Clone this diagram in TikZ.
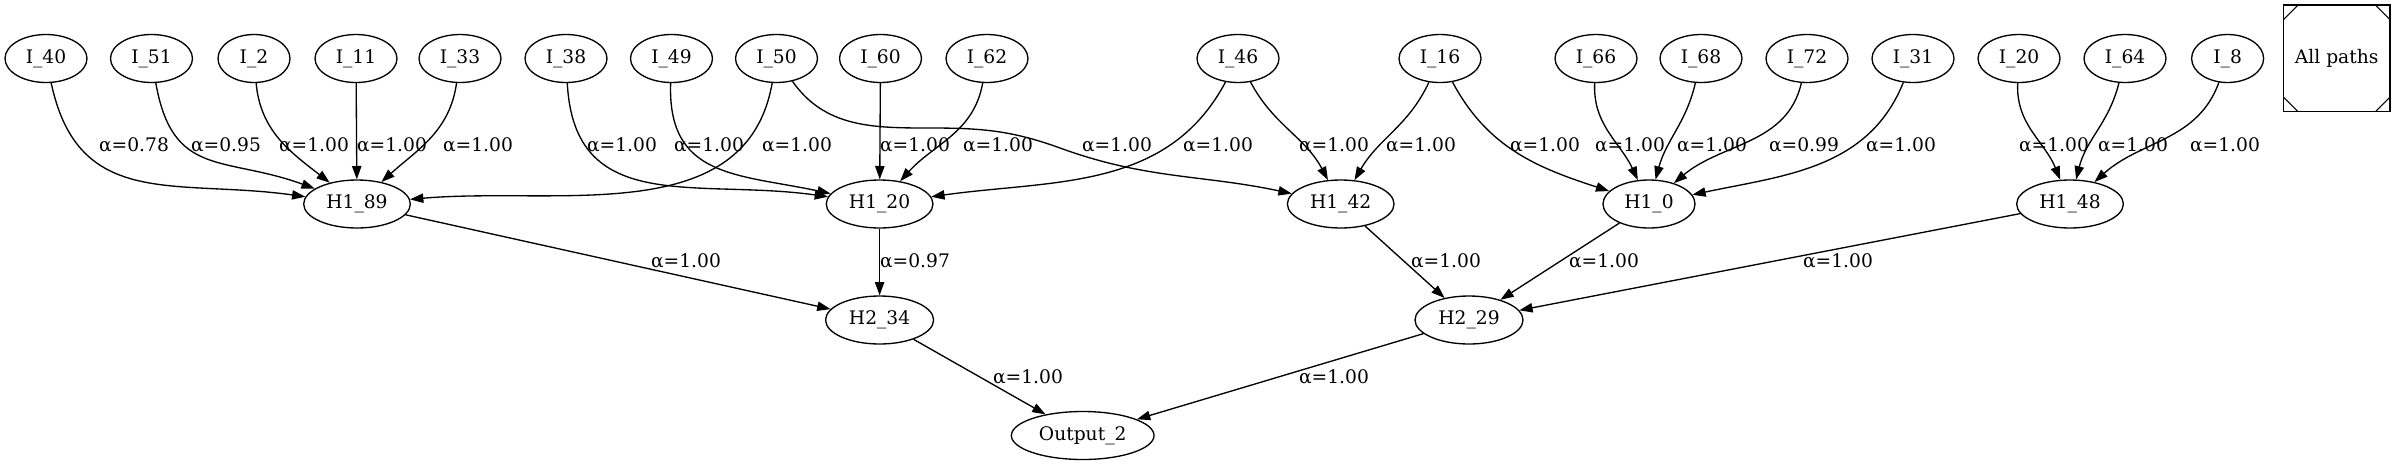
\documentclass[tikz,border=0pt]{standalone}
\usepackage{fontspec}
\setmainfont{DejaVu Serif}
\usetikzlibrary{arrows.meta,shapes.geometric}
\tikzset{
  nd/.style={draw, ellipse, line width=1pt, inner sep=0pt, minimum height=36pt, minimum width=#1},
  nd/.default=61.5pt,
  wt/.style={-{Triangle[length=10pt,width=7pt]}, line width=1pt},
  allp/.style={draw, line width=1pt, inner sep=0pt, minimum size=80pt,
    path picture={
      \draw[line width=0.8pt] ([yshift=-11pt]path picture bounding box.north west) -- ([xshift=11pt]path picture bounding box.north west);
      \draw[line width=0.8pt] ([yshift=-11pt]path picture bounding box.north east) -- ([xshift=-11pt]path picture bounding box.north east);
      \draw[line width=0.8pt] ([yshift=11pt]path picture bounding box.south west) -- ([xshift=11pt]path picture bounding box.south west);
      \draw[line width=0.8pt] ([yshift=11pt]path picture bounding box.south east) -- ([xshift=-11pt]path picture bounding box.south east);
    }}
}
\begin{document}
\begin{tikzpicture}[x=0.75pt, y=0.75pt, font=\fontsize{14pt}{16pt}\selectfont]
\useasboundingbox (0,0) rectangle (2395,-465);
\node[nd] (I40) at (46,-58.5) {I\_40};
\node[nd] (I51) at (151.5,-58.5) {I\_51};
\node[nd=54pt] (I2) at (254,-58.5) {I\_2};
\node[nd] (I11) at (356,-58.5) {I\_11};
\node[nd] (I33) at (460,-58.5) {I\_33};
\node[nd] (I38) at (566,-58.5) {I\_38};
\node[nd] (I49) at (671.5,-58.5) {I\_49};
\node[nd] (I50) at (776.5,-58.5) {I\_50};
\node[nd] (I60) at (880.5,-58.5) {I\_60};
\node[nd] (I62) at (987,-58.5) {I\_62};
\node[nd] (I46) at (1238,-58.5) {I\_46};
\node[nd] (I16) at (1440,-58.5) {I\_16};
\node[nd] (I66) at (1596,-58.5) {I\_66};
\node[nd] (I68) at (1701,-58.5) {I\_68};
\node[nd] (I72) at (1807,-58.5) {I\_72};
\node[nd] (I31) at (1913,-58.5) {I\_31};
\node[nd] (I20) at (2019,-58.5) {I\_20};
\node[nd] (I64) at (2125,-58.5) {I\_64};
\node[nd=54pt] (I8) at (2227.6,-58.5) {I\_8};
\node[allp] (allpaths) at (2336.7,-58.3) {All paths};
\node[nd=80pt] (H189) at (357,-204) {H1\_89};
\node[nd=80pt] (H120) at (879.6,-204) {H1\_20};
\node[nd=80pt] (H142) at (1340.7,-204) {H1\_42};
\node[nd=69pt] (H10) at (1649,-204) {H1\_0};
\node[nd=80pt] (H148) at (2070,-204) {H1\_48};
\node[nd=81pt] (H234) at (879.6,-320) {H2\_34};
\node[nd=81pt] (H229) at (1469,-320) {H2\_29};
\node[nd=107pt] (Out2) at (1082.7,-435.5) {Output\_2};
\draw[wt] (I40) to[out=-78,in=172,looseness=1.2] (H189) node at (134,-145) {α=0.78};
\draw[wt] (I51) to[out=-80,in=160,looseness=1.3] (H189) node at (226,-145) {α=0.95};
\draw[wt] (I2) to[out=-85,in=142] (H189) node at (314,-145) {α=1.00};
\draw[wt] (I11) -- (H189) node at (392,-145) {α=1.00};
\draw[wt] (I33) to[out=-98,in=42] (H189) node at (478,-145) {α=1.00};
\draw[wt] (I50) to[out=-100,in=5] (H189) node at (797,-145) {α=1.00};
\draw[wt] (I38) to[out=-87,in=172,looseness=1.2] (H120) node at (622,-145) {α=1.00};
\draw[wt] (I49) to[out=-92,in=168,looseness=1.25] (H120) node at (709,-145) {α=1.00};
\draw[wt] (I60) -- (H120) node at (915,-145) {α=1.00};
\draw[wt] (I62) to[out=-100,in=48] (H120) node at (998,-145) {α=1.00};
\draw[wt] (I46) to[out=-118,in=8] (H120) node at (1218,-145) {α=1.00};
\draw[wt] (I50) to[out=-55,in=180] (930,-128) to[out=0,in=160] (1060,-148) to[out=-20,in=168] (H142) node at (1117,-145) {α=1.00};
\draw[wt] (I46) to[out=-62,in=118] (H142) node at (1334,-145) {α=1.00};
\draw[wt] (I16) to[out=-115,in=60] (H142) node at (1421,-145) {α=1.00};
\draw[wt] (I16) to[out=-62,in=162] (H10) node at (1545,-145) {α=1.00};
\draw[wt] (I66) to[out=-93,in=115] (H10) node at (1630,-145) {α=1.00};
\draw[wt] (I68) to[out=-103,in=75] (H10) node at (1712,-145) {α=1.00};
\draw[wt] (I72) to[out=-103,in=40] (H10) node at (1804,-145) {α=0.99};
\draw[wt] (I31) to[out=-112,in=12] (H10) node at (1901,-145) {α=1.00};
\draw[wt] (I20) to[out=-93,in=112] (H148) node at (2054,-145) {α=1.00};
\draw[wt] (I64) to[out=-104,in=76] (H148) node at (2133,-145) {α=1.00};
\draw[wt] (I8) to[out=-110,in=42] (H148) node at (2225,-145) {α=1.00};
\draw[wt] (H189) -- (H234) node at (686,-261) {α=1.00};
\draw[wt] (H120) -- (H234) node at (915,-261) {α=0.97};
\draw[wt] (H142) -- (H229) node at (1446,-261) {α=1.00};
\draw[wt] (H10) -- (H229) node at (1604,-261) {α=1.00};
\draw[wt] (H148) -- (H229) node at (1838,-261) {α=1.00};
\draw[wt] (H234) -- (Out2) node at (1028,-377) {α=1.00};
\draw[wt] (H229) -- (Out2) node at (1334,-377) {α=1.00};
\end{tikzpicture}
\end{document}
